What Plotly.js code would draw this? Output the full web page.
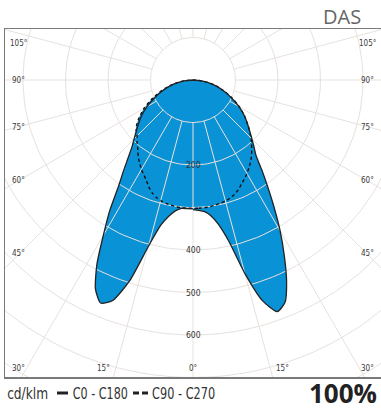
<!DOCTYPE html>
<html><head><meta charset="utf-8">
<script src="https://cdn.plot.ly/plotly-3.0.1.min.js"></script>
<style>html,body{margin:0;padding:0;background:#fff;overflow:hidden}#chart{width:381px;height:412px;}</style>
</head><body><div id="chart"></div>
<script>
// Gamma angles (degrees from nadir) and intensities (cd/klm)
const gammaAngles = [0,2.5,5,7.5,10,12.5,15,17.5,20,22.5,25,27.5,30,32.5,35,37.5,40,42.5,45,50,55,60,65,70,75,80,85,90];
const c0   = [305,307,311,322,345,388,471,545,580,566,521,465,410,355,306,265,230,212,196,170,148,125,100,78,58,38,18,0];
const c180 = [303,303,303,310,325,350,405,495,552,568,543,490,422,365,306,268,236,212,196,170,148,125,100,78,58,38,18,0];
const c90  = [302,302,302,301,299,297,295,291,286,279,270,262,254,245,236,226,215,204,193,170,148,126,102,80,59,39,19,0];
const c270 = [302,302,302,301,299,297,294,289,282,272,260,251,243,233,224,213,203,195,186,175,155,133,108,84,62,41,20,0];

// Grid values
const ringValues = [100,200,300,400,500,600,700,800];
const spokeAngles = [0,15,30,45,60,75,90,105,120,135,150,165,180,195,210,225,240,255,270,285,300,315,330,345];
const radialLabels = ['200','400','500','600'];
const leftAngleLabels = ['105°','90°','75°','60°','45°','30°'];
const bottomAngleLabels = ['15°','0°','15°'];
const rightAngleLabels = ['105°','90°','75°','60°','45°','30°'];
const legendTexts = ['cd/klm','C0 - C180','C90 - C270'];

const rad = d => d*Math.PI/180;
function curve(rightVals, leftVals){
  const x=[], y=[];
  for(let i=0;i<gammaAngles.length;i++){ const g=rad(gammaAngles[i]); x.push(rightVals[i]*Math.sin(g)); y.push(-rightVals[i]*Math.cos(g)); }
  for(let i=gammaAngles.length-1;i>=0;i--){ const g=rad(gammaAngles[i]); x.push(-leftVals[i]*Math.sin(g)); y.push(-leftVals[i]*Math.cos(g)); }
  return {x,y};
}
const solid = curve(c0, c180);
const dashed = curve(c90, c270);
const BLUE = '#0a92d6';
const GRID = '#e7e1dd';

const traces = [];
traces.push({x:dashed.x,y:dashed.y,mode:'lines',fill:'toself',fillcolor:BLUE,line:{width:0,shape:'spline',smoothing:0.6},hoverinfo:'skip',showlegend:false});
traces.push({x:solid.x,y:solid.y,mode:'lines',fill:'toself',fillcolor:BLUE,line:{width:0,shape:'spline',smoothing:0.6},hoverinfo:'skip',showlegend:false});

// grid rings and spokes
const gx=[], gy=[];
ringValues.forEach(r=>{
  for(let a=0;a<=360;a+=2){ gx.push(r*Math.sin(rad(a))); gy.push(-r*Math.cos(rad(a))); }
  gx.push(null); gy.push(null);
});
spokeAngles.forEach(a=>{
  gx.push(100*Math.sin(rad(a))); gy.push(-100*Math.cos(rad(a)));
  gx.push(1200*Math.sin(rad(a))); gy.push(-1200*Math.cos(rad(a)));
  gx.push(null); gy.push(null);
});
traces.push({x:gx,y:gy,mode:'lines',line:{color:GRID,width:1},hoverinfo:'skip',showlegend:false});

traces.push({x:dashed.x,y:dashed.y,mode:'lines',line:{color:'#111',width:1.4,dash:'3px,3px',shape:'spline',smoothing:0.6},hoverinfo:'skip',showlegend:false});
traces.push({x:solid.x,y:solid.y,mode:'lines',line:{color:'#222',width:1.3,shape:'spline',smoothing:0.6},hoverinfo:'skip',showlegend:false});

const L=5, T=29, W=376, H=348, S=0.425; // px per cd
const py = p => (T+H-p)/H, px = p => (p-L)/W;
const annotations = [];
const smallFont = {family:'DejaVu Sans Condensed, sans-serif',size:8,color:'#3a3a3a'};
radialLabels.forEach(t=>annotations.push({x:0,y:-Number(t),xref:'x',yref:'y',xanchor:'center',yanchor:'middle',text:t,showarrow:false,font:{family:'DejaVu Sans Condensed, sans-serif',size:8.5,color:'#333'}}));
const sideY=[43,80,127,180,253,368];
leftAngleLabels.forEach((t,i)=>annotations.push({x:px(18),y:py(sideY[i]),xref:'paper',yref:'paper',xanchor:'center',yanchor:'middle',text:t,showarrow:false,font:smallFont}));
rightAngleLabels.forEach((t,i)=>annotations.push({x:px(367),y:py(sideY[i]),xref:'paper',yref:'paper',xanchor:'center',yanchor:'middle',text:t,showarrow:false,font:smallFont}));
[104,193,282].forEach((xx,i)=>annotations.push({x:px(xx),y:py(368),xref:'paper',yref:'paper',xanchor:'center',yanchor:'middle',text:bottomAngleLabels[i],showarrow:false,font:smallFont}));
annotations.push({x:px(363),y:py(16),xref:'paper',yref:'paper',xanchor:'right',yanchor:'middle',text:'DAS',showarrow:false,font:{family:'Open Sans, sans-serif',size:20,color:'#666'}});
const legFont={family:'DejaVu Sans Condensed, sans-serif',size:15,color:'#333'};
const legCenter=[27.5,100.5,183.5];
legendTexts.forEach((t,i)=>annotations.push({x:px(legCenter[i]),y:py(394),xref:'paper',yref:'paper',xanchor:'center',yanchor:'middle',text:t,showarrow:false,font:legFont}));
annotations.push({x:px(379),y:py(393),xref:'paper',yref:'paper',xanchor:'right',yanchor:'middle',text:'<b>100%</b>',showarrow:false,font:{family:'Open Sans, Liberation Sans, sans-serif',size:26,color:'#222'}});

const shapes = [
  {type:'line',xref:'paper',yref:'paper',x0:px(57),x1:px(68),y0:py(393),y1:py(393),line:{color:'#222',width:3}},
  {type:'line',xref:'paper',yref:'paper',x0:px(133),x1:px(139),y0:py(393),y1:py(393),line:{color:'#222',width:3}},
  {type:'line',xref:'paper',yref:'paper',x0:px(142),x1:px(148),y0:py(393),y1:py(393),line:{color:'#222',width:3}}
];

const layout = {
  width:381,height:412,margin:{l:L,r:381-L-W,t:T,b:412-T-H,pad:0},
  paper_bgcolor:'#fff',plot_bgcolor:'#fff',showlegend:false,
  xaxis:{range:[-188/S,188/S],showgrid:false,zeroline:false,showticklabels:false,ticks:'',showline:true,mirror:true,linecolor:'#7a7a7a',linewidth:1.5,fixedrange:true},
  yaxis:{range:[-(H-51)/S,51/S],showgrid:false,zeroline:false,showticklabels:false,ticks:'',showline:true,mirror:false,linecolor:'#7a7a7a',linewidth:1.5,fixedrange:true},
  annotations, shapes
};
const legWidths = {'cd/klm':41,'C0 - C180':55,'C90 - C270':63};
Plotly.newPlot('chart',traces,layout,{displayModeBar:false,staticPlot:true}).then(gd=>{
  gd.querySelectorAll('text.annotation-text').forEach(el=>{
    const w = legWidths[el.textContent];
    if(w){ el.setAttribute('textLength', w); el.setAttribute('lengthAdjust','spacingAndGlyphs'); }
  });
});
</script></body></html>
